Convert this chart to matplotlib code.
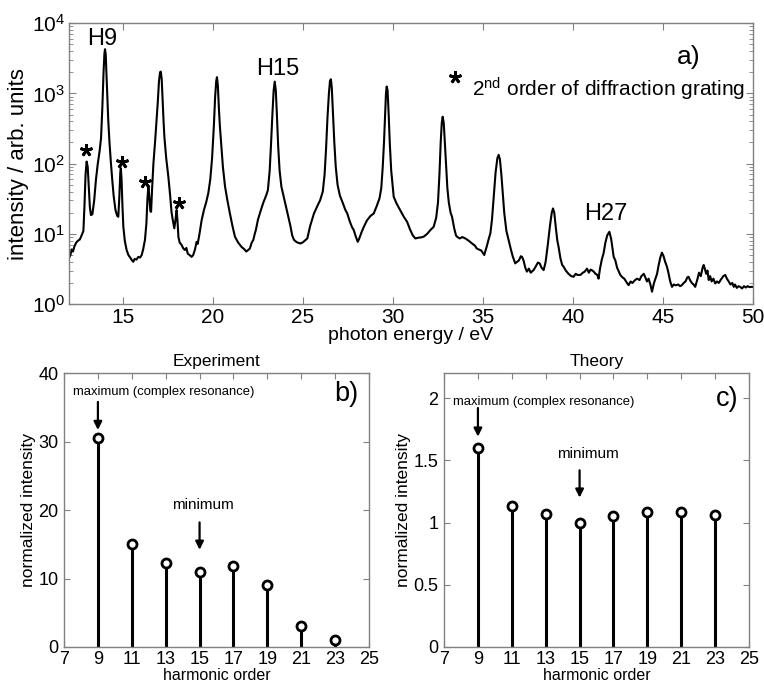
import matplotlib
matplotlib.use("Agg")
import matplotlib.pyplot as plt
from matplotlib.ticker import FixedLocator, FixedFormatter

plt.rcParams['font.family'] = ['Liberation Sans', 'DejaVu Sans']
plt.rcParams['mathtext.fontset'] = 'custom'
plt.rcParams['mathtext.rm'] = 'Liberation Sans'
plt.rcParams['mathtext.it'] = 'Liberation Sans:italic'
plt.rcParams['mathtext.bf'] = 'Liberation Sans:bold'

SPINE_COLOR = "0.5"

# spectrum (photon energy in eV, intensity in arb. units)
energy = [
    12.00, 12.08, 12.15, 12.22, 12.30, 12.40, 12.50, 12.60, 12.70, 12.80,
    12.86, 12.92, 12.98, 13.04, 13.10, 13.16, 13.22, 13.30, 13.40, 13.50,
    13.60, 13.70, 13.78, 13.85, 13.92, 13.97, 14.00, 14.04, 14.08, 14.13,
    14.18, 14.25, 14.32, 14.40, 14.48, 14.58, 14.68, 14.74, 14.80, 14.85,
    14.88, 14.92, 14.97, 15.02, 15.10, 15.20, 15.30, 15.40, 15.50, 15.57,
    15.65, 15.75, 15.85, 15.95, 16.04, 16.12, 16.22, 16.30, 16.36, 16.41,
    16.46, 16.52, 16.56, 16.62, 16.69, 16.78, 16.86, 16.93, 17.00, 17.06,
    17.10, 17.15, 17.20, 17.25, 17.30, 17.40, 17.52, 17.62, 17.70, 17.78,
    17.85, 17.92, 17.98, 18.03, 18.08, 18.15, 18.25, 18.35, 18.44, 18.52,
    18.60, 18.70, 18.81, 18.90, 19.00, 19.09, 19.15, 19.25, 19.37, 19.50,
    19.62, 19.74, 19.85, 19.95, 20.05, 20.12, 20.18, 20.22, 20.27, 20.33,
    20.38, 20.44, 20.55, 20.67, 20.80, 20.94, 21.08, 21.22, 21.40, 21.59,
    21.75, 21.85, 21.96, 22.05, 22.15, 22.24, 22.32, 22.38, 22.50, 22.66,
    22.80, 22.95, 23.05, 23.15, 23.22, 23.30, 23.37, 23.43, 23.49, 23.55,
    23.62, 23.70, 23.80, 23.95, 24.14, 24.30, 24.40, 24.50, 24.60, 24.70,
    24.87, 25.00, 25.10, 25.24, 25.40, 25.61, 25.80, 25.95, 26.10, 26.20,
    26.28, 26.36, 26.44, 26.50, 26.55, 26.60, 26.66, 26.74, 26.82, 26.92,
    27.05, 27.20, 27.35, 27.46, 27.60, 27.72, 27.82, 27.93, 28.04, 28.12,
    28.25, 28.38, 28.55, 28.75, 28.93, 29.10, 29.25, 29.35, 29.43, 29.50,
    29.56, 29.61, 29.65, 29.70, 29.76, 29.82, 29.90, 30.04, 30.20, 30.40,
    30.60, 30.78, 30.95, 31.10, 31.24, 31.40, 31.55, 31.70, 31.90, 32.10,
    32.26, 32.40, 32.50, 32.58, 32.65, 32.71, 32.76, 32.82, 32.88, 32.95,
    33.02, 33.10, 33.20, 33.28, 33.40, 33.50, 33.56, 33.70, 33.85, 34.02,
    34.20, 34.39, 34.55, 34.65, 34.76, 34.90, 35.00, 35.07, 35.20, 35.32,
    35.41, 35.50, 35.60, 35.70, 35.80, 35.87, 35.94, 36.02, 36.10, 36.18,
    36.30, 36.42, 36.55, 36.65, 36.79, 36.90, 37.00, 37.10, 37.17, 37.25,
    37.35, 37.44, 37.55, 37.65, 37.81, 37.95, 38.05, 38.15, 38.25, 38.37,
    38.48, 38.60, 38.72, 38.82, 38.89, 38.96, 39.05, 39.13, 39.20, 39.30,
    39.40, 39.48, 39.60, 39.75, 39.90, 40.03, 40.15, 40.25, 40.41, 40.55,
    40.65, 40.78, 40.88, 40.98, 41.08, 41.15, 41.25, 41.35, 41.42, 41.50,
    41.60, 41.70, 41.80, 41.90, 42.02, 42.12, 42.20, 42.26, 42.35, 42.45,
    42.55, 42.63, 42.75, 42.85, 43.00, 43.09, 43.20, 43.30, 43.45, 43.56,
    43.70, 43.80, 43.93, 44.02, 44.11, 44.20, 44.30, 44.39, 44.50, 44.60,
    44.67, 44.75, 44.85, 44.94, 45.02, 45.12, 45.22, 45.30, 45.40, 45.50,
    45.60, 45.70, 45.85, 45.95, 46.05, 46.15, 46.25, 46.35, 46.42, 46.50,
    46.60, 46.70, 46.79, 46.90, 47.00, 47.10, 47.20, 47.26, 47.32, 47.40,
    47.47, 47.54, 47.62, 47.70, 47.80, 47.90, 48.00, 48.10, 48.20, 48.35,
    48.46, 48.55, 48.65, 48.75, 48.85, 48.93, 49.00, 49.10, 49.20, 49.30,
    49.39, 49.50, 49.60, 49.70, 49.80, 49.94, 50.00,
]
intensity = [
    4.5, 5.0, 6.0, 5.6, 6.6, 7.5, 8.0, 8.3, 9.5, 11,
    25, 70, 107, 90, 45, 24, 18.5, 19, 30, 60,
    100, 150, 230, 600, 2000, 3700, 4250, 3600, 2000, 900,
    420, 200, 110, 60, 35, 22, 18, 17.5, 35, 75,
    86, 60, 25, 12.6, 8, 5.9, 5.0, 4.6, 4.2, 4.0,
    4.4, 4.3, 4.7, 4.6, 5.0, 6.0, 8.2, 14, 32, 47,
    35, 21, 20.6, 45, 100, 200, 400, 730, 1500, 2000,
    2040, 1600, 800, 420, 240, 120, 65, 35, 20, 15,
    12, 16, 21.8, 15, 9, 7.5, 7, 6.2, 5.9, 6.3,
    5.2, 5.0, 4.7, 5.0, 6.0, 7.7, 7.2, 10, 15.7, 22,
    28, 38, 60, 120, 350, 900, 1500, 1700, 1300, 600,
    350, 216, 90, 47, 30, 19.5, 13, 9.1, 7.5, 6.5,
    6.0, 5.6, 5.9, 6.2, 7.5, 8.2, 10, 11.3, 16, 21.8,
    28, 35, 42, 80, 180, 500, 1100, 1470, 1100, 500,
    180, 80, 47, 32, 19.5, 13, 9.5, 8.2, 7.8, 7.5,
    7.3, 7.6, 8.0, 8.6, 13, 19.5, 25, 30, 40, 70,
    160, 450, 1000, 1500, 1590, 1200, 550, 200, 90, 50,
    35, 28, 22, 19.5, 15, 12.5, 11.3, 9.2, 7.7, 8.5,
    10.5, 12.6, 15.5, 18, 19.5, 25, 32, 45, 90, 200,
    500, 1000, 1250, 1100, 500, 200, 80, 33.7, 27, 21.8,
    17.5, 14.9, 11.5, 9.5, 8.6, 8.8, 8.9, 9.1, 10, 11.5,
    12.6, 17, 28, 70, 200, 380, 465, 380, 200, 90,
    45, 28, 20, 17.5, 12, 9.5, 9.1, 8.6, 9.0, 8.6,
    8.0, 7.3, 6.8, 6.2, 6.0, 5.8, 5.3, 5.0, 6.5, 8.5,
    10.2, 16, 35, 75, 120, 133, 115, 70, 38, 20,
    11, 8.2, 6.0, 4.8, 3.8, 4.0, 4.2, 4.8, 4.7, 4.2,
    3.3, 2.9, 3.2, 2.8, 3.05, 3.5, 3.9, 3.8, 3.3, 3.05,
    4.0, 7.0, 13, 20, 23, 20, 12, 8.0, 6.5, 4.5,
    3.6, 3.4, 3.0, 2.7, 2.5, 2.45, 2.7, 2.6, 2.6, 2.8,
    2.9, 3.2, 2.8, 3.1, 3.0, 2.9, 2.7, 2.6, 2.3, 3.2,
    4.3, 5.3, 7.5, 9.5, 10.7, 8.5, 6.0, 4.7, 4.2, 3.3,
    2.9, 2.6, 2.4, 2.3, 2.0, 1.86, 2.1, 2.0, 2.2, 2.3,
    2.2, 2.5, 2.7, 2.4, 2.1, 2.3, 1.9, 1.5, 2.0, 2.4,
    2.7, 3.5, 4.6, 5.4, 4.9, 4.0, 3.4, 2.8, 2.1, 1.76,
    1.9, 1.85, 1.9, 1.8, 1.86, 2.0, 2.1, 2.4, 2.45, 2.2,
    2.0, 1.9, 1.76, 2.2, 2.8, 2.5, 3.3, 3.6, 3.2, 2.7,
    3.0, 2.2, 2.5, 2.1, 2.3, 1.97, 2.1, 2.0, 2.2, 2.5,
    2.6, 2.3, 2.1, 1.9, 2.0, 1.76, 1.9, 1.7, 1.8, 1.75,
    1.67, 1.8, 1.72, 1.8, 1.75, 1.76, 1.75,
]

# second-order lines marked with an asterisk
star_energy = [12.94, 14.94, 16.20, 18.10]
star_level = [156, 107, 55, 27.7]

# harmonic yields
orders = [9, 11, 13, 15, 17, 19, 21, 23]
experiment = [30.6, 15.0, 12.2, 10.9, 11.8, 9.1, 3.1, 1.0]
theory = [1.60, 1.13, 1.065, 1.0, 1.055, 1.085, 1.085, 1.06]


def style_axes(ax, length=5):
    for s in ax.spines.values():
        s.set_color(SPINE_COLOR)
        s.set_linewidth(1.0)
    ax.tick_params(which='both', direction='in', top=True, right=True,
                   color=SPINE_COLOR, labelcolor='black')
    ax.tick_params(which='major', length=length)
    ax.tick_params(which='minor', length=3)


fig = plt.figure(figsize=(7.64, 6.88), dpi=100)

# ---- a) spectrum
ax = fig.add_axes([0.0903, 0.558, 0.8953, 0.4084])
ax.plot(energy, intensity, color='black', lw=1.5)
ax.set_yscale('log')
ax.set_xlim(12, 50)
ax.set_ylim(1, 1e4)
ax.set_xticks([15, 20, 25, 30, 35, 40, 45, 50])
style_axes(ax)
ax.tick_params(labelsize=15, pad=3)
ax.set_xlabel("photon energy / eV", fontsize=14, labelpad=0)
ax.set_ylabel("intensity / arb. units", fontsize=16, labelpad=2)

ax.plot(star_energy, star_level, linestyle='none', marker=(5, 2, 0),
        markersize=9, markeredgewidth=2, color='black')
ax.plot([33.42], [1700], linestyle='none', marker=(5, 2, 0),
        markersize=9, markeredgewidth=2, color='black')
ax.text(34.4, 1150, "2$^{\\mathrm{nd}}$ order of diffraction grating",
        fontsize=15, va='center', ha='left')
ax.text(13.87, 6000, "H9", fontsize=17, ha='center', va='center')
ax.text(23.6, 2200, "H15", fontsize=17, ha='center', va='center')
ax.text(41.8, 19, "H27", fontsize=17, ha='center', va='center')
ax.text(47.1, 3300, "a)", fontsize=19, ha='right', va='center')


def harmonic_panel(rect, values, ylim, yticks, ylabels, title, tag,
                   max_txt_y, max_arrow, min_txt, min_arrow, tag_y):
    bx = fig.add_axes(rect)
    markers, stems, base = bx.stem(orders, values, linefmt='k-',
                                   markerfmt='ko', basefmt=' ')
    stems.set_linewidth(2.2)
    markers.set_markerfacecolor('white')
    markers.set_markersize(6.5)
    markers.set_markeredgewidth(2)
    bx.set_xlim(7, 25)
    bx.set_ylim(*ylim)
    bx.set_xticks(range(7, 26, 2))
    bx.yaxis.set_major_locator(FixedLocator(yticks))
    bx.yaxis.set_major_formatter(FixedFormatter(ylabels))
    style_axes(bx, length=4)
    bx.tick_params(labelsize=13)
    bx.tick_params(axis='x', pad=3)
    bx.tick_params(axis='y', pad=4)
    bx.set_xlabel("harmonic order", fontsize=11.5, labelpad=0)
    bx.set_ylabel("normalized intensity", fontsize=12.5, labelpad=2)
    bx.set_title(title, fontsize=12.5, pad=5)

    bx.text(12.9, max_txt_y, "maximum (complex resonance)", fontsize=9.4,
            ha='center', va='center')
    bx.annotate("", xy=(9, max_arrow[1]), xytext=(9, max_arrow[0]),
                arrowprops=dict(arrowstyle='-|>', color='black', lw=1.6,
                                mutation_scale=12, shrinkA=0, shrinkB=0))
    bx.text(min_txt[0], min_txt[1], "minimum", fontsize=11,
            ha='center', va='center')
    bx.annotate("", xy=(15, min_arrow[1]), xytext=(15, min_arrow[0]),
                arrowprops=dict(arrowstyle='-|>', color='black', lw=1.6,
                                mutation_scale=12, shrinkA=0, shrinkB=0))
    bx.text(24.35, tag_y, tag, fontsize=19.5, ha='right', va='center')
    return bx


harmonic_panel([0.0838, 0.0596, 0.3992, 0.398], experiment, (0, 40),
               [0, 10, 20, 30, 40], ['0', '10', '20', '30', '40'],
               "Experiment", "b)", 37.2, (35.8, 31.7), (15.2, 20.7),
               (18.2, 14.2), 37.0)
harmonic_panel([0.5812, 0.0596, 0.3992, 0.398], theory, (0, 2.2),
               [0, 0.5, 1, 1.5, 2], ['0', '0.5', '1', '1.5', '2'],
               "Theory", "c)", 1.97, (1.92, 1.69), (15.5, 1.55),
               (1.42, 1.20), 1.99)

fig.savefig("out.png", dpi=100)
